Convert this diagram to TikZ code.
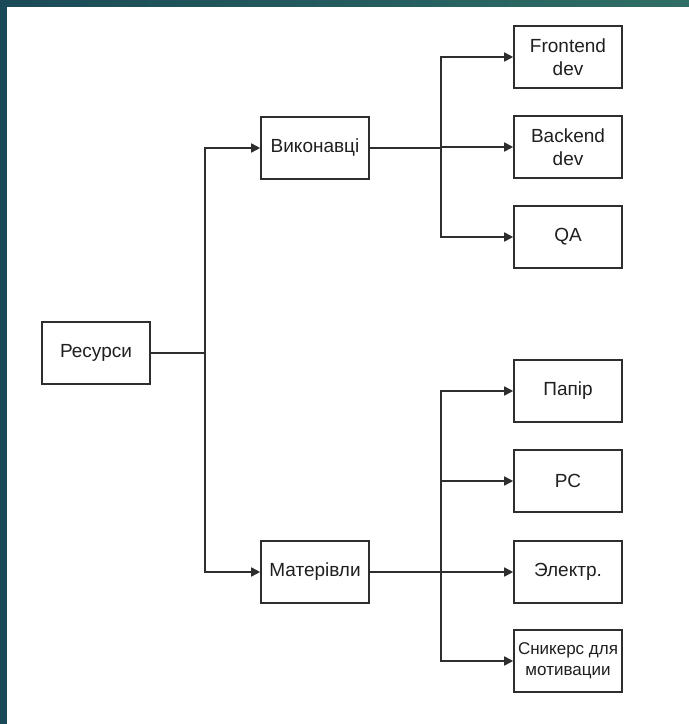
\documentclass[tikz,border=0pt]{standalone}
\usepackage{fontspec}
\setmainfont{Liberation Sans}
\usetikzlibrary{arrows.meta}
\definecolor{barleft}{HTML}{1A4A57}
\definecolor{barright}{HTML}{2F6E66}
\definecolor{edgegray}{HTML}{2E2E2E}
\tikzset{
    box/.style={draw=edgegray, line width=1.6pt, fill=white, minimum width=108pt, minimum height=62pt,
        align=center, inner sep=1pt, text=black!88, font=\fontsize{19}{23}\selectfont},
    conn/.style={draw=edgegray, line width=1.6pt, -{Triangle[length=9pt,width=9pt]}},
}

\begin{document}
\begin{tikzpicture}[x=1pt,y=-1pt]
    \useasboundingbox (0,0) rectangle (689,724);
    \fill[barleft] (0,0) rectangle (7,724);
    \shade[left color=barleft, right color=barright] (0,0) rectangle (689,6);

    \node[box] (res) at (96,353) {Ресурси};
    \node[box] (vyk) at (315,148) {Виконавці};
    \node[box] (mat) at (315,572) {Матерівли};
    \coordinate (jres) at (205,353);
    \coordinate (jvyk) at (441,148);
    \coordinate (jmat) at (441,572);
    \draw[conn] (res) -- (jres) |- (vyk);
    \draw[conn] (res) -- (jres) |- (mat);

    \foreach \n/\y/\t in {fe/57/{Frontend\\dev}, be/147/{Backend\\dev}, qa/237/QA} {
        \node[box] (\n) at (568,\y) {\t};
        \draw[conn] (vyk) -- (jvyk) |- (\n);
    }
    \foreach \n/\y/\t in {pap/391/Папір, pc/481/PC, el/572/Электр.} {
        \node[box] (\n) at (568,\y) {\t};
        \draw[conn] (mat) -- (jmat) |- (\n);
    }
    \node[box, font=\fontsize{17}{21}\selectfont] (sn) at (568,661) {Сникерс для\\мотивации}; % smaller text here
    \draw[conn] (mat) -- (jmat) |- (sn);
\end{tikzpicture}
\end{document}
